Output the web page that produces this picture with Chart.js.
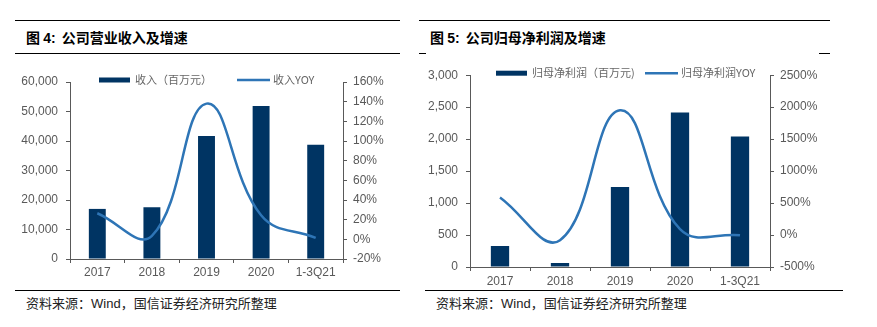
<!DOCTYPE html>
<html>
<head>
<meta charset="utf-8">
<script src="https://cdn.jsdelivr.net/npm/chart.js@4.4.0/dist/chart.umd.min.js"></script>
<style>
  body { margin: 0; background: #fff; }
  .page { position: relative; width: 877px; height: 327px; overflow: hidden; background: #fff; }
  .rule { position: absolute; height: 1px; background: #000; }
  .title { position: absolute; top: 28px; font: bold 14px "Noto Sans CJK SC", sans-serif; color: #000; line-height: 18px; }
  .title b { font-family: "Liberation Sans", Arial, sans-serif; margin-right: 6px; }
  .foot { position: absolute; top: 295px; font: 13px "Noto Sans CJK SC", sans-serif; color: #222; line-height: 16px; }
  .foot span { font-family: "Liberation Sans", Arial, sans-serif; }
  canvas { position: absolute; }
</style>
</head>
<body>
<div class="page">
  <div class="rule" style="left:15px; top:20px; width:385px;"></div>
  <div class="title" style="left:26px;">图 <b>4:</b>公司营业收入及增速</div>
  <div class="rule" style="left:15px; top:53px; width:385px;"></div>

  <div class="rule" style="left:419px; top:20px; width:411px;"></div>
  <div class="title" style="left:430px;">图 <b>5:</b>公司归母净利润及增速</div>
  <div class="rule" style="left:419px; top:53px; width:7px;"></div>
  <div class="rule" style="left:819px; top:53px; width:11px;"></div>

  <canvas id="revenueChart" width="420" height="228" style="left:0; top:60px;"></canvas>
  <canvas id="profitChart" width="420" height="228" style="left:420px; top:60px;"></canvas>

  <div class="rule" style="left:15px; top:290px; width:385px;"></div>
  <div class="foot" style="left:26px;">资料来源：<span>Wind</span>，国信证券经济研究所整理</div>
  <div class="rule" style="left:425px; top:290px; width:418px;"></div>
  <div class="foot" style="left:436px;">资料来源：<span>Wind</span>，国信证券经济研究所整理</div>
</div>

<script>
// data
const categories = ['2017', '2018', '2019', '2020', '1-3Q21'];
const revenue = [16980, 17550, 41660, 51850, 38720];
const revenueYoy = [26.5, 3.5, 138, 24.5, 1.5];
const profit = [328, 62, 1250, 2417, 2042];
const profitYoy = [588, -81, 1950, 93, -3];

const barColor = '#003463';
const lineColor = '#2E75B6';
const axisColor = '#595959';
const tickFont = { family: '"Liberation Sans", Arial, sans-serif', size: 12 };

// legend drawn inside the plot area, like the original
function insideLegend(items) {
    return {
        id: 'insideLegend',
        afterDraw(chart) {
            const ctx = chart.ctx;
            const area = chart.chartArea;
            ctx.save();
            ctx.font = '11px "Noto Sans CJK SC", sans-serif';
            ctx.textBaseline = 'middle';
            items.forEach(item => {
                const x = area.left + item.dx;
                const y = area.top + item.dy;
                if (item.type === 'bar') {
                    ctx.fillStyle = barColor;
                    ctx.fillRect(x, y - 2.5, 31, 5);
                } else {
                    ctx.strokeStyle = lineColor;
                    ctx.lineWidth = 2.5;
                    ctx.beginPath();
                    ctx.moveTo(x, y);
                    ctx.lineTo(x + 33, y);
                    ctx.stroke();
                }
                ctx.fillStyle = '#666';
                ctx.fillText(item.text, x + 36, y);
            });
            ctx.restore();
        }
    };
}

function makeChart(id, cfg) {
    return new Chart(document.getElementById(id), {
        data: {
            labels: categories,
            datasets: [{
                type: 'line',
                label: cfg.lineLabel,
                data: cfg.lineData,
                yAxisID: 'y1',
                borderColor: lineColor,
                borderWidth: 2.5,
                pointRadius: 0,
                tension: 0.42,
                fill: false,
                order: 0
            }, {
                type: 'bar',
                label: cfg.barLabel,
                data: cfg.barData,
                yAxisID: 'y',
                backgroundColor: barColor,
                categoryPercentage: 1,
                barPercentage: cfg.barPct,
                order: 1
            }]
        },
        options: {
            responsive: false,
            animation: false,
            devicePixelRatio: 1,
            layout: { padding: { top: cfg.padTop, left: 0, right: 0, bottom: 0 } },
            plugins: { legend: { display: false }, tooltip: { enabled: false } },
            scales: {
                x: {
                    grid: { offset: true, drawOnChartArea: false, color: axisColor, tickLength: 4 },
                    border: { color: axisColor },
                    ticks: { color: axisColor, font: tickFont, padding: cfg.xPad, maxRotation: 0 },
                    afterFit(scale) { scale.height = cfg.xHeight; }
                },
                y: {
                    position: 'left',
                    min: cfg.yMin, max: cfg.yMax,
                    grid: { drawOnChartArea: false, color: axisColor, tickLength: 4 },
                    border: { color: axisColor },
                    ticks: {
                        stepSize: cfg.yStep, color: axisColor, font: tickFont, padding: cfg.yPad,
                        callback: v => v.toLocaleString('en-US')
                    },
                    afterFit(scale) { scale.width = cfg.yWidth; }
                },
                y1: {
                    position: 'right',
                    min: cfg.y1Min, max: cfg.y1Max,
                    grid: { drawOnChartArea: false, color: axisColor, tickLength: 4 },
                    border: { color: axisColor },
                    ticks: {
                        stepSize: cfg.y1Step, color: axisColor, font: tickFont, padding: 6,
                        callback: v => v + '%'
                    },
                    afterFit(scale) { scale.width = cfg.y1Width; }
                }
            }
        },
        plugins: [insideLegend(cfg.legend)]
    });
}

makeChart('revenueChart', {
    barLabel: '收入（百万元）', barData: revenue,
    lineLabel: '收入YOY', lineData: revenueYoy,
    barPct: 0.31,
    yMin: 0, yMax: 60000, yStep: 10000,
    y1Min: -20, y1Max: 160, y1Step: 20,
    padTop: 22, xHeight: 29, xPad: 2, yWidth: 70, y1Width: 77, yPad: 8,
    legend: [
        { type: 'bar', text: '收入（百万元）', dx: 29, dy: -2 },
        { type: 'line', text: '收入YOY', dx: 167, dy: -2 }
    ]
});

makeChart('profitChart', {
    barLabel: '归母净利润（百万元)', barData: profit,
    lineLabel: '归母净利润YOY', lineData: profitYoy,
    barPct: 0.305,
    yMin: 0, yMax: 3000, yStep: 500,
    y1Min: -500, y1Max: 2500, y1Step: 500,
    padTop: 15, xHeight: 21, xPad: 3, yWidth: 50, y1Width: 70, yPad: 8,
    legend: [
        { type: 'bar', text: '归母净利润（百万元)', dx: 26, dy: -2 },
        { type: 'line', text: '归母净利润YOY', dx: 175, dy: -2 }
    ]
});
</script>
</body>
</html>
